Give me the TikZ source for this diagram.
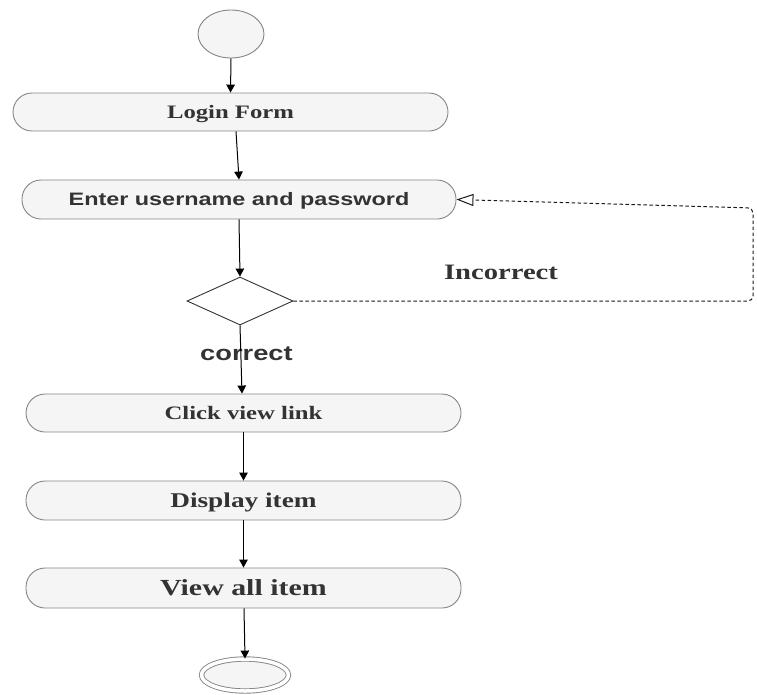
\documentclass[tikz,border=0pt]{standalone}
\usepackage{fontspec}
\usepackage{graphicx}
\setmainfont{Liberation Serif}
\newfontfamily\arialfont{Liberation Sans}
\usetikzlibrary{shapes.geometric,arrows.meta}
\definecolor{boxfill}{HTML}{F5F5F5}
\definecolor{boxline}{HTML}{858585}
\definecolor{txt}{HTML}{333333}
\newcommand{\wide}[1]{\scalebox{1.3}[1]{#1}}
\newcommand{\fsz}[1]{\fontsize{#1pt}{#1pt}\selectfont\bfseries}
\begin{document}
\begin{tikzpicture}[x=1pt,y=-1pt,
  act/.style={draw=boxline, fill=boxfill, rounded corners=19pt, minimum width=435pt,
    minimum height=38pt, inner sep=0pt, text=txt, line width=0.9pt,
    text height=#1, text depth=0pt},
  act/.default=12.5pt,
  startnode/.style={ellipse, draw=boxline, fill=boxfill, minimum width=66pt,
    minimum height=48pt, inner sep=0pt, line width=0.9pt},
  endnode/.style={ellipse, draw=boxline, fill=boxfill, double=white, double distance=3.5pt,
    minimum width=87pt, minimum height=32pt, inner sep=0pt, line width=0.9pt},
  decision/.style={diamond, aspect=2.2, draw=txt, fill=white, minimum width=106pt,
    minimum height=48pt, inner sep=0pt, line width=0.9pt},
  flow/.style={-{Triangle[width=8.5pt,length=8pt]}, line width=1pt, black},
  backflow/.style={draw=black!90, line width=1pt, dash pattern=on 3.5pt off 2.5pt,
    rounded corners=5pt, -{Triangle[open, length=17pt, width=12pt]}},
  lbl/.style={text=txt, inner sep=0pt, anchor=base}
]
\useasboundingbox (0,0) rectangle (757,694);

\node[startnode] (start) at (231,34) {};
\node[act=12.5pt, font=\fsz{19}] (login) at (230.5,112) {\wide{Login Form}};
\node[act=12.9pt, minimum width=434pt, minimum height=39pt, font=\arialfont\fsz{18}] (enter) at (239,199.5) {\wide{Enter username and password}};
\node[decision] (dia) at (240,301) {};
\node[act=12.5pt, font=\fsz{19}] (click) at (243.5,413) {\wide{Click view link}};
\node[act=13.9pt, minimum height=39pt, font=\fsz{21}] (display) at (243.5,500.5) {\wide{Display item}};
\node[act=15.2pt, minimum height=40pt, font=\fsz{23}] (viewall) at (243.5,588) {\wide{View all item}};
\node[endnode] (end) at (245,675) {};

\node[lbl, font=\fsz{22}] (lblinc) at (501,279) {\wide{Incorrect}};
\node[lbl, font=\arialfont\fsz{21}] (lblcor) at (246.5,360) {\wide{correct}};

\draw[flow] (start.south) -- (login.north);
\draw[flow] ([xshift=5.5pt]login.south) -- (enter.north);
\draw[flow] (enter.south) -- (dia.north);
\draw[flow] (dia.south) -- ([xshift=-1.5pt]click.north);
\draw[flow] (click.south) -- (display.north);
\draw[flow] (display.south) -- (viewall.north);
\draw[flow] ([xshift=0.5pt]viewall.south) -- (end.north);

\coordinate (c1) at (753,301);
\coordinate (c2) at (753,208);
\draw[backflow] (dia.east) -- (c1) -- (c2) -- (enter.east);
\end{tikzpicture}
\end{document}
